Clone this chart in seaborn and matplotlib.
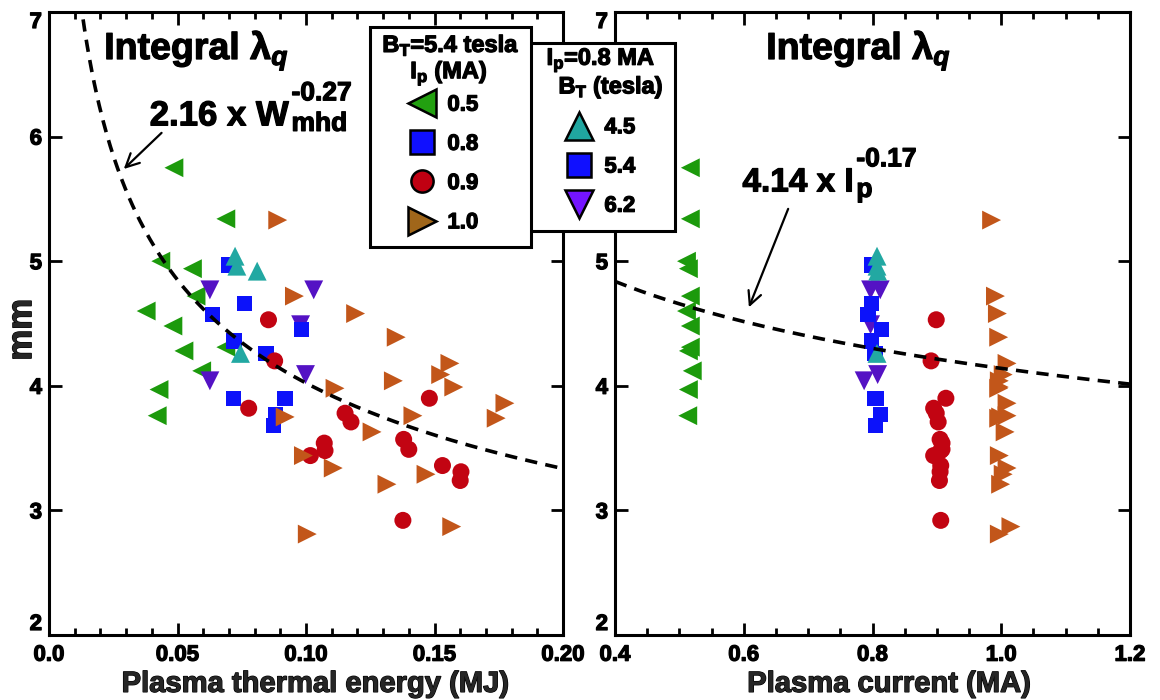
import numpy as np
import pandas as pd
import matplotlib
matplotlib.use("Agg")
import matplotlib.pyplot as plt
import matplotlib.patheffects as pe
from matplotlib.lines import Line2D
from matplotlib.patches import Rectangle
from matplotlib.text import Text
from matplotlib.ticker import MultipleLocator
import seaborn as sns

# ---- measurements: plasma thermal energy W (MJ), plasma current Ip (MA), integral lambda_q (mm)
# B_T = 5.4 T, Ip = 0.5 MA
w_ip05 = [0.0486, 0.0688, 0.0435, 0.0558, 0.0572, 0.0378, 0.0482, 0.0525, 0.0688, 0.0594, 0.0428, 0.0421]
ip_ip05 = [0.517, 0.517, 0.511, 0.514, 0.517, 0.511, 0.517, 0.514, 0.517, 0.520, 0.514, 0.513]
lq_ip05 = [5.75, 5.34, 5.00, 4.94, 4.72, 4.60, 4.48, 4.28, 4.31, 4.12, 3.97, 3.76]

# Ip = 0.8 MA, B_T = 6.2 T
w_bt62 = [0.0626, 0.1030, 0.0979, 0.0626, 0.0998]
ip_bt62 = [0.797, 0.812, 0.797, 0.787, 0.808]
lq_bt62 = [4.77, 4.77, 4.49, 4.04, 4.09]

# B_T = 5.4 T, Ip = 0.8 MA
w_ip08 = [0.0699, 0.0637, 0.0760, 0.0983, 0.0720, 0.0844, 0.0717, 0.0918, 0.0882, 0.0875]
ip_ip08 = [0.798, 0.793, 0.798, 0.814, 0.798, 0.804, 0.804, 0.806, 0.812, 0.805]
lq_ip08 = [4.97, 4.57, 4.66, 4.45, 4.36, 4.26, 3.90, 3.90, 3.77, 3.68]

# B_T = 5.4 T, Ip = 0.9 MA
w_ip09 = [0.0854, 0.0878, 0.0777, 0.1152, 0.1175, 0.1071, 0.1074, 0.1017, 0.1380, 0.1400,
          0.1480, 0.1531, 0.1603, 0.1600, 0.1377]
ip_ip09 = [0.899, 0.891, 0.895, 0.899, 0.902, 0.908, 0.906, 0.895, 0.905, 0.908,
           0.914, 0.906, 0.905, 0.904, 0.906]
lq_ip09 = [4.53, 4.20, 3.82, 3.78, 3.71, 3.54, 3.48, 3.44, 3.57, 3.49,
           3.90, 3.36, 3.31, 3.24, 2.92]

# B_T = 5.4 T, Ip = 1.0 MA
w_ip10 = [0.0890, 0.0955, 0.1193, 0.1351, 0.1560, 0.1524, 0.1575, 0.1340, 0.1113, 0.1774,
          0.1740, 0.1416, 0.0919, 0.1257, 0.0990, 0.1106, 0.1467, 0.1315, 0.1567, 0.1005]
ip_ip10 = [0.985, 0.991, 0.994, 0.996, 1.009, 1.003, 0.997, 0.997, 0.996, 1.009,
           0.996, 1.009, 0.999, 1.006, 0.997, 1.009, 1.003, 0.999, 1.015, 0.997]
lq_ip10 = [5.33, 4.72, 4.58, 4.39, 4.18, 4.09, 3.99, 4.04, 3.98, 3.86,
           3.74, 3.76, 3.75, 3.63, 3.44, 3.34, 3.29, 3.21, 2.87, 2.81]

# Ip = 0.8 MA, B_T = 4.5 T
w_bt45 = [0.0724, 0.0731, 0.0810, 0.0745]
ip_bt45 = [0.807, 0.807, 0.808, 0.807]
lq_bt45 = [5.04, 4.96, 4.92, 4.26]

# fitted scalings
fit_w_coef, fit_w_exp = 2.16, -0.27
fit_ip_coef, fit_ip_exp = 4.14, -0.17

w_ticks = [0.0, 0.05, 0.10, 0.15, 0.20]
w_tick_labels = ["0.0", "0.05", "0.10", "0.15", "0.20"]
ip_ticks = [0.4, 0.6, 0.8, 1.0, 1.2]
ip_tick_labels = ["0.4", "0.6", "0.8", "1.0", "1.2"]
lq_ticks = [2, 3, 4, 5, 6, 7]
lq_tick_labels = ["2", "3", "4", "5", "6", "7"]
# on the right panel the "6" sits under the B_T legend box
lq_tick_labels_right = ["2", "3", "4", "5", "", "7"]

ip_labels = ["0.5", "0.8", "0.9", "1.0"]
bt_labels = ["4.5", "5.4", "6.2"]

# ---- assemble a long table (drawing order: later rows on top)
groups = [
    ("ip05", w_ip05, ip_ip05, lq_ip05),
    ("bt62", w_bt62, ip_bt62, lq_bt62),
    ("ip08", w_ip08, ip_ip08, lq_ip08),
    ("ip09", w_ip09, ip_ip09, lq_ip09),
    ("ip10", w_ip10, ip_ip10, lq_ip10),
    ("bt45", w_bt45, ip_bt45, lq_bt45),
]
df = pd.concat(
    [pd.DataFrame({"group": g, "W": w, "Ip": ip, "lq": lq}) for g, w, ip, lq in groups],
    ignore_index=True,
)

palette = {"ip05": "#1c9a0c", "bt62": "#5412c4", "ip08": "#0c12fa",
           "ip09": "#c20412", "ip10": "#c2561a", "bt45": "#22a8a2"}
markers = {"ip05": "<", "bt62": "v", "ip08": "s", "ip09": "o", "ip10": ">", "bt45": "^"}
sizes = {"ip05": 185, "bt62": 185, "ip08": 120, "ip09": 150, "ip10": 185, "bt45": 185}

sns.set_theme(style="ticks")
plt.rcParams.update({
    "font.family": ["Liberation Sans", "DejaVu Sans"],
    "font.weight": "bold",
    "axes.labelweight": "bold",
    "mathtext.fontset": "custom",
    "mathtext.rm": "Liberation Sans:bold",
    "mathtext.it": "Liberation Sans:italic:bold",
    "mathtext.bf": "Liberation Sans:bold",
    "mathtext.default": "rm",
    "axes.linewidth": 2.2,
    "axes.edgecolor": "black",
    "text.color": "black",
})

W_PX, H_PX = 1160, 700
fig = plt.figure(figsize=(W_PX / 100, H_PX / 100), dpi=100)


def fpos(x, y):
    """Pixel position (from top-left) to figure fraction."""
    return x / W_PX, 1 - y / H_PX


ax1 = fig.add_axes([49 / W_PX, 65 / H_PX, 514 / W_PX, 623 / H_PX])
ax2 = fig.add_axes([615 / W_PX, 65 / H_PX, 515 / W_PX, 623 / H_PX])

for ax, xcol, ylabels in ((ax1, "W", lq_tick_labels), (ax2, "Ip", lq_tick_labels_right)):
    sns.scatterplot(data=df, x=xcol, y="lq", hue="group", style="group", size="group",
                    palette=palette, markers=markers, sizes=sizes, linewidth=0,
                    legend=False, ax=ax, zorder=3)
    ax.set_ylim(2, 7)
    ax.set_yticks(lq_ticks, labels=ylabels)
    ax.tick_params(which="both", direction="in", top=True, right=True,
                   width=2, colors="black", labelsize=16)
    ax.tick_params(which="major", length=9)
    ax.tick_params(which="minor", length=5)
    ax.tick_params(axis="x", pad=7)
    ax.tick_params(axis="y", pad=5)
    ax.set_ylabel("")

ax1.set_xlim(0, 0.2)
ax1.set_xticks(w_ticks, labels=w_tick_labels)
ax1.xaxis.set_minor_locator(MultipleLocator(0.01))
ax1.set_xlabel("Plasma thermal energy (MJ)", fontsize=21, fontweight="bold")
ax1.xaxis.set_label_coords(0.518, -0.056)
ax1.set_ylabel("mm", fontsize=25, fontweight="bold")
ax1.yaxis.set_label_coords(-0.021, 0.49)

ax2.set_xlim(0.4, 1.2)
ax2.set_xticks(ip_ticks, labels=ip_tick_labels)
ax2.xaxis.set_minor_locator(MultipleLocator(0.05))
ax2.set_xlabel("Plasma current (MA)", fontsize=21, fontweight="bold")
ax2.xaxis.set_label_coords(0.532, -0.056)

for ax in (ax1, ax2):
    for lab in ax.get_xticklabels() + ax.get_yticklabels():
        lab.set_fontweight("bold")
    ylabs = ax.get_yticklabels()
    ylabs[0].set_verticalalignment("bottom")   # "2" sits just above the bottom corner
    ylabs[-1].set_verticalalignment("top")     # "7" sits just below the top corner

# fitted power laws
w_fit = np.linspace(0.008, 0.2, 400)
ip_fit = np.linspace(0.4, 1.2, 200)
sns.lineplot(x=w_fit, y=fit_w_coef * w_fit ** fit_w_exp, ax=ax1, color="black",
             lw=2.6, linestyle=(0, (3.4, 2.3)), zorder=5, sort=False)
sns.lineplot(x=ip_fit, y=fit_ip_coef * ip_fit ** fit_ip_exp, ax=ax2, color="black",
             lw=2.6, linestyle=(0, (3.4, 2.3)), zorder=5, sort=False)

title_txt = r"Integral λ$_{\mathit{q}}$"
ax1.text(0.0215, 6.62, title_txt, fontsize=27, fontweight="bold")
ax2.text(0.635, 6.62, title_txt, fontsize=27, fontweight="bold")


def power_label(ax, x, y, base, sub, sup, size):
    """Bold label with a subscript stacked under a superscript."""
    main = ax.text(x, y, base, fontsize=size, fontweight="bold", va="baseline", zorder=6)
    ax.annotate(sub, xy=(1, 0), xycoords=main, xytext=(2, -2.5), textcoords="offset points",
                fontsize=19, fontweight="bold", va="bottom", ha="left", zorder=6)
    ax.annotate(sup, xy=(1, 0), xycoords=main, xytext=(2, 19.5), textcoords="offset points",
                fontsize=19, fontweight="bold", va="bottom", ha="left", zorder=6)


power_label(ax1, 0.0392, 6.09, "2.16 x W", "mhd", f"{fit_w_exp:.2f}", 25)
power_label(ax2, 0.598, 5.56, "4.14 x I", "p", f"{fit_ip_exp:.2f}", 24)

arrow = dict(arrowstyle="->", color="black", lw=1.6, mutation_scale=24, shrinkA=0, shrinkB=0)
ax1.annotate("", xy=(0.0291, 5.74), xytext=(0.0438, 6.03), arrowprops=arrow, zorder=6)
ax2.annotate("", xy=(0.608, 4.63), xytext=(0.669, 5.42), arrowprops=arrow, zorder=6)


# ---- legend boxes (B_T scan box sits under the Ip scan box)
def handle(marker, color, ms):
    return Line2D([], [], ls="none", marker=marker, ms=ms, mfc=color, mec="black", mew=1.8)


def legend_box(x0, y0, x1, y1, z):
    fig.add_artist(Rectangle(fpos(x0, y1), (x1 - x0) / W_PX, (y1 - y0) / H_PX,
                             transform=fig.transFigure, facecolor="white",
                             edgecolor="black", linewidth=2.2, zorder=z))


leg_kw = dict(loc="center", frameon=False, fontsize=16, handlelength=1.1,
              handletextpad=0.6, labelspacing=0.82, borderpad=0, borderaxespad=0)
title_kw = dict(ha="center", va="center", fontsize=17, fontweight="bold")

# Ip = 0.8 MA, B_T scan
legend_box(522, 43, 675, 231, 6)
fig.text(*fpos(601, 60), "I$_{p}$=0.8 MA", zorder=7, **title_kw)
fig.text(*fpos(611, 87), "B$_{T}$ (tesla)", zorder=7, **title_kw)
leg2 = fig.legend(handles=[handle("^", "#20a6a0", 20), handle("s", "#1010ff", 17),
                           handle("v", "#7414ff", 20)],
                  labels=bt_labels, bbox_to_anchor=fpos(601, 167), **leg_kw)
leg2.set_zorder(7)

# B_T = 5.4 T, Ip scan
legend_box(370, 27, 531, 247, 8)
fig.text(*fpos(451, 45), "B$_{T}$=5.4 tesla", zorder=9, **title_kw)
fig.text(*fpos(449, 73), "I$_{p}$ (MA)", zorder=9, **title_kw)
leg1 = fig.legend(handles=[handle("<", "#22a010", 20), handle("s", "#1010ff", 17),
                           handle("o", "#c00012", 16), handle(">", "#a0661a", 20)],
                  labels=ip_labels, bbox_to_anchor=fpos(444, 164), **leg_kw)
leg1.set_zorder(9)

# heavier strokes on every piece of lettering
for t in fig.findobj(Text):
    if t.get_text():
        t.set_path_effects([pe.withStroke(linewidth=0.9, foreground="black")])

fig.savefig("out.png", dpi=100)
